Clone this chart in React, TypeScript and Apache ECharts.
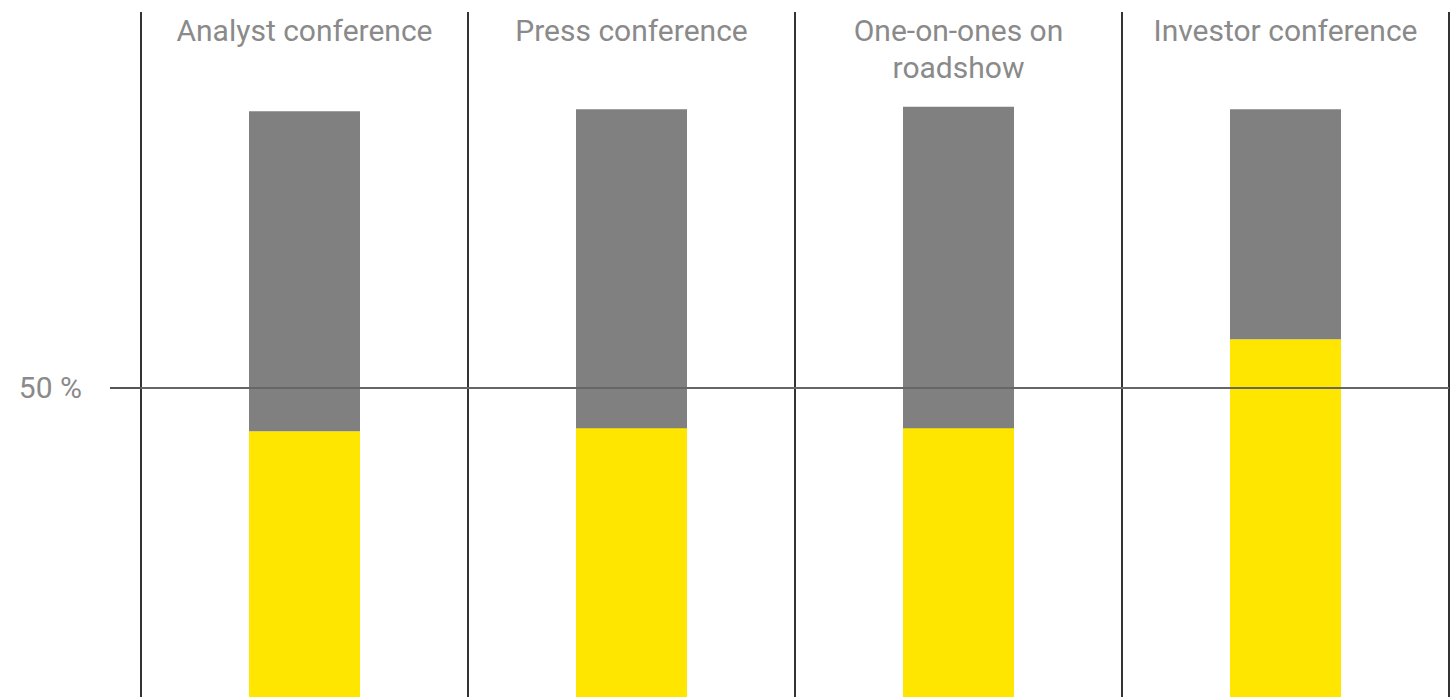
import React, { useEffect, useRef } from "react";
import * as echarts from "echarts";

const categories = ["Analyst conference", "Press conference", "One-on-ones on\nroadshow", "Investor conference"];
const yellowValues = [43.0, 46.8, 44.3, 57.9];
const grayBase = [43.0, 43.5, 43.5, 57.9];
const grayTop = [94.8, 95.1, 95.5, 95.1];
const grayValues = grayTop.map((t, i) => +(t - grayBase[i]).toFixed(2));
const refLine = 50;

export default function App() {
  const ref = useRef<HTMLDivElement>(null);
  useEffect(() => {
    if (!ref.current) return;
    const chart = echarts.init(ref.current, null, { renderer: "svg" });
    chart.setOption({
      animation: false,
      backgroundColor: "#ffffff",
      grid: { left: 141, right: 5, top: 12, bottom: 1, containLabel: false },
      xAxis: {
        type: "category",
        data: categories,
        position: "top",
        axisLine: { show: false },
        axisTick: { show: false },
        axisLabel: {
          inside: true,
          margin: 0,
          color: "#8a8a8a",
          fontFamily: "Roboto",
          fontSize: 30,
          lineHeight: 37,
          interval: 0,
        },
        splitLine: { show: true, interval: 0, lineStyle: { color: "#333333", width: 2 } },
      },
      yAxis: {
        type: "value",
        min: 0,
        max: 110.84,
        axisLine: { show: false },
        splitLine: { show: false },
        axisTick: {
          show: true,
          customValues: [refLine],
          length: 31,
          lineStyle: { color: "#555555", width: 2 },
        },
        axisLabel: {
          customValues: [refLine],
          formatter: (v: number) => `${v} %`,
          color: "#8a8a8a",
          fontFamily: "Roboto",
          fontSize: 30,
          margin: 59,
        },
      },
      series: [
        {
          name: "yellow",
          type: "bar",
          stack: "y",
          data: yellowValues,
          barWidth: 111,
          barGap: "-100%",
          itemStyle: { color: "#FFE600" },
          markLine: {
            silent: true,
            symbol: "none",
            label: { show: false },
            lineStyle: { color: "#666666", width: 2, type: "solid" },
            data: [{ yAxis: refLine }],
          },
        },
        {
          name: "base",
          type: "bar",
          stack: "g",
          data: grayBase,
          barWidth: 111,
          itemStyle: { color: "transparent" },
        },
        {
          name: "gray",
          type: "bar",
          stack: "g",
          data: grayValues,
          barWidth: 111,
          itemStyle: { color: "#808080" },
        },
      ],
    });
    return () => chart.dispose();
  }, []);
  return (
    <div
      ref={ref}
      style={{ position: "fixed", left: 0, top: 0, width: 1454, height: 698 }}
    />
  );
}
